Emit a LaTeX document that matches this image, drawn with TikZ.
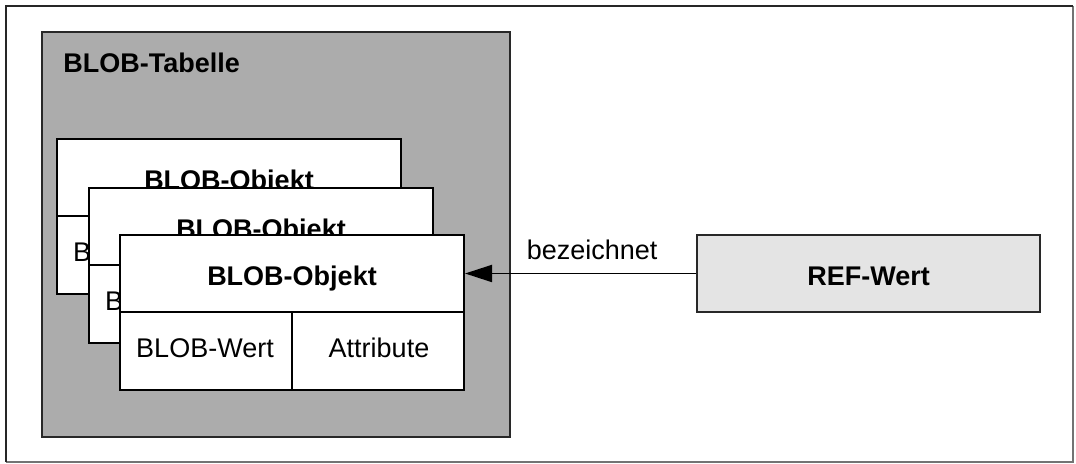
\documentclass[tikz,border=0pt]{standalone}
\usepackage{fontspec}
\setmainfont{Liberation Sans}
\usetikzlibrary{arrows.meta,calc}
\definecolor{tabgray}{RGB}{172,172,172}
\definecolor{refgray}{RGB}{228,228,228}
\definecolor{edge}{RGB}{40,40,40}
\begin{document}
\begin{tikzpicture}[x=0.5pt,y=-0.5pt,
  every node/.style={font=\fontsize{13.5}{16}\selectfont},
  lbl/.style={inner sep=0pt},
  bold/.style={inner sep=0pt,font=\fontsize{13.5}{16}\selectfont\bfseries},
  objbox/.style={draw=black,line width=1pt,fill=white,minimum width=172pt,minimum height=77.5pt,anchor=north west,inner sep=0pt},
  table/.style={draw=edge,line width=1pt,fill=tabgray,minimum width=234pt,minimum height=202.5pt,anchor=north west,inner sep=0pt},
  refbox/.style={draw=edge,line width=1pt,fill=refgray,minimum width=171.5pt,minimum height=38.5pt,anchor=north west,inner sep=0pt},
  conn/.style={line width=0.9pt,-{Triangle[length=13.5pt,width=8.5pt]}}
]
\useasboundingbox (0,0) rectangle (1076,464);
\fill[white] (0,0) rectangle (1076,464);
% outer frame
\coordinate (fa) at (6,6);
\coordinate (fb) at (1073,6);
\coordinate (fc) at (1073,462);
\coordinate (fd) at (6,462);
\draw[line width=1pt,color=black!55] (fb) -- (fc) -- (fd);
\draw[line width=1pt,color=black!85] (fd) -- (fa) -- (fb);
% table
\node[table] (tab) at (41,31) {};
\node[bold,anchor=west] (tabl) at (63,63) {BLOB-Tabelle};
% object boxes
\foreach \n/\x/\y in {1/56/138,2/88/187,3/119/234}{
  \node[objbox] (b\n) at (\x,\y) {};
  \draw[line width=1pt] (b\n.west) -- (b\n.east);
  \draw[line width=1pt] (b\n.center) -- (b\n.south);
  \node[bold,anchor=base] (o\n) at ($(b\n.north)+(0,52)$) {BLOB-Objekt};
  \node[lbl,anchor=base] (w\n) at ($(b\n.north west)+(86,124)$) {BLOB-Wert};
  \node[lbl,anchor=base] (a\n) at ($(b\n.north east)+(-86,124)$) {Attribute};
}
% REF box
\node[refbox] (ref) at (696,234) {};
\node[bold,anchor=base] (reft) at ($(ref.north)+(0,52)$) {REF-Wert};
\draw[conn] (ref.west) -- node[lbl,pos=0.45,above=6.5pt] (bez) {bezeichnet} (ref.west -| b3.east);
\end{tikzpicture}
\end{document}
